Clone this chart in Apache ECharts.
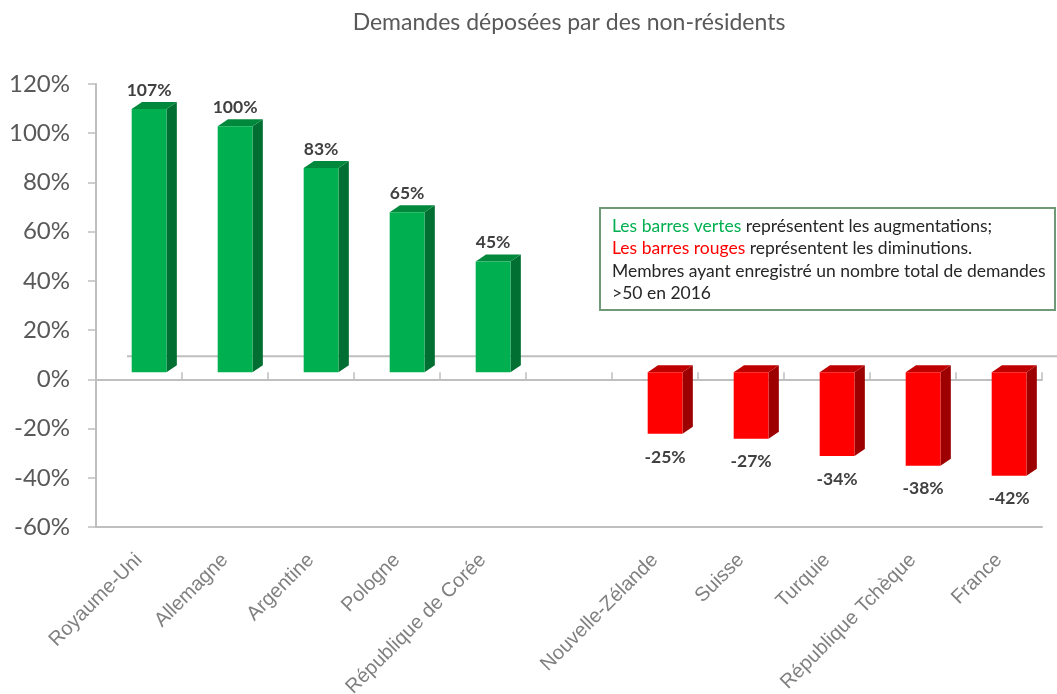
<!DOCTYPE html>
<html>
<head>
<meta charset="utf-8">
<script src="https://cdn.jsdelivr.net/npm/echarts@6/dist/echarts.min.js"></script>
<style>
  html, body { margin: 0; padding: 0; background: #fff; }
  #chart { width: 1057px; height: 694px; }
</style>
</head>
<body>
<div id="chart"></div>
<script>
// membres (une case vide sépare hausses et baisses)
var categories = ['Royaume-Uni', 'Allemagne', 'Argentine', 'Pologne', 'République de Corée', '',
    'Nouvelle-Zélande', 'Suisse', 'Turquie', 'République Tchèque', 'France']
var variation = [107, 100, 83, 65, 45, null, -25, -27, -34, -38, -42]
var yTicks = { min: -60, max: 120, step: 20 }

var GREEN = { front: '#00b050', top: '#00893d', side: '#006f31' }
var RED = { front: '#ff0000', top: '#c00000', side: '#9c0000' }

var chart = echarts.init(document.getElementById('chart'))

function renderBar3d(params, api) {
    var v = api.value(1)
    if (v === null || isNaN(v)) return
    var bw = api.size([1, 0])[0]
    var c0 = api.coord([api.value(0), 0])
    var c1 = api.coord([api.value(0), v])
    var lift = 7 // décalage de profondeur (effet 3D)
    var dx = bw * 0.12
    var fl = c0[0] - bw * 0.085
    var w = bw * 0.405
    var yBase = c0[1] - lift
    var yVal = c1[1] - lift
    var col = v >= 0 ? GREEN : RED
    var yTop = Math.min(yBase, yVal)
    var yBot = Math.max(yBase, yVal)
    return {
        type: 'group',
        children: [
            {
                type: 'polygon',
                shape: { points: [[fl + w, yTop], [fl + w + dx, yTop - lift], [fl + w + dx, yBot - lift], [fl + w, yBot]] },
                style: { fill: col.side }
            },
            {
                type: 'polygon',
                shape: { points: [[fl, yTop], [fl + dx, yTop - lift], [fl + w + dx, yTop - lift], [fl + w, yTop]] },
                style: { fill: col.top }
            },
            {
                type: 'rect',
                shape: { x: fl, y: yTop, width: w, height: yBot - yTop },
                style: { fill: col.front }
            },
            {
                type: 'text',
                style: {
                    text: v + '%',
                    x: fl + w / 2,
                    y: v >= 0 ? yTop - 19 : yBot + 23,
                    align: 'center',
                    verticalAlign: 'middle',
                    font: 'bold 17.5px Lato',
                    fill: '#404040'
                }
            }
        ]
    }
}

var option = {
    animation: false,
    title: {
        text: 'Demandes déposées par des non-résidents',
        left: 564,
        textAlign: 'center',
        top: 6,
        textStyle: { fontFamily: 'Lato', fontSize: 23, fontWeight: 'normal', color: '#595959' }
    },
    grid: { left: 96, right: 15, top: 84, bottom: 167, outerBoundsMode: 'none' },
    xAxis: [
        {
            type: 'category',
            data: categories,
            axisLine: { onZero: true, lineStyle: { color: '#bfbfbf', width: 2 } },
            axisTick: { show: true, inside: true, length: 7, interval: 0, lineStyle: { color: '#bfbfbf', width: 1.5 } },
            axisLabel: { show: false },
            splitLine: { show: false }
        },
        {
            type: 'category',
            data: categories,
            position: 'bottom',
            axisLine: { onZero: false, lineStyle: { color: '#bfbfbf', width: 2 } },
            axisTick: { show: false },
            axisLabel: {
                interval: 0,
                rotate: 45,
                margin: 30,
                fontFamily: 'Liberation Sans',
                fontSize: 20,
                color: '#808080'
            },
            splitLine: { show: false }
        }
    ],
    yAxis: {
        type: 'value',
        min: yTicks.min,
        max: yTicks.max,
        interval: yTicks.step,
        axisLine: { show: true, lineStyle: { color: '#bfbfbf', width: 2 } },
        axisTick: { show: true, length: 8, lineStyle: { color: '#bfbfbf', width: 1.5 } },
        axisLabel: {
            formatter: '{value}%',
            margin: 26,
            fontFamily: 'Lato',
            fontSize: 24,
            color: '#595959'
        },
        splitLine: { show: false }
    },
    series: [
        {
            type: 'custom',
            xAxisIndex: 0,
            renderItem: renderBar3d,
            data: variation.map(function (v, i) { return [i, v] }),
            z: 5
        }
    ]
}
chart.setOption(option)

// ligne arrière du plancher + encadré de légende
var zeroPt = chart.convertToPixel({ xAxisIndex: 0, yAxisIndex: 0 }, [0, 0])
var floorY = zeroPt[1] - 23
chart.setOption({
    graphic: [
        {
            type: 'line',
            shape: { x1: 127, y1: floorY, x2: 1057, y2: floorY },
            style: { stroke: '#bfbfbf', lineWidth: 2 },
            z: 1
        },
        {
            type: 'rect',
            shape: { x: 600, y: 208, width: 455, height: 102 },
            style: { fill: '#fff', stroke: '#6e9a78', lineWidth: 2 },
            z: 10
        },
        {
            type: 'text',
            x: 612,
            y: 215,
            z: 11,
            style: {
                text: '{g|Les barres vertes} représentent les augmentations;\n' +
                      '{r|Les barres rouges} représentent les diminutions.\n' +
                      'Membres ayant enregistré un nombre total de demandes\n' +
                      '>50 en 2016',
                font: '17.5px Lato',
                fill: '#262626',
                lineHeight: 22.5,
                rich: {
                    g: { fill: '#00b050', font: '17.5px Lato', lineHeight: 22.5 },
                    r: { fill: '#ff0000', font: '17.5px Lato', lineHeight: 22.5 }
                }
            }
        }
    ]
})
</script>
</body>
</html>
